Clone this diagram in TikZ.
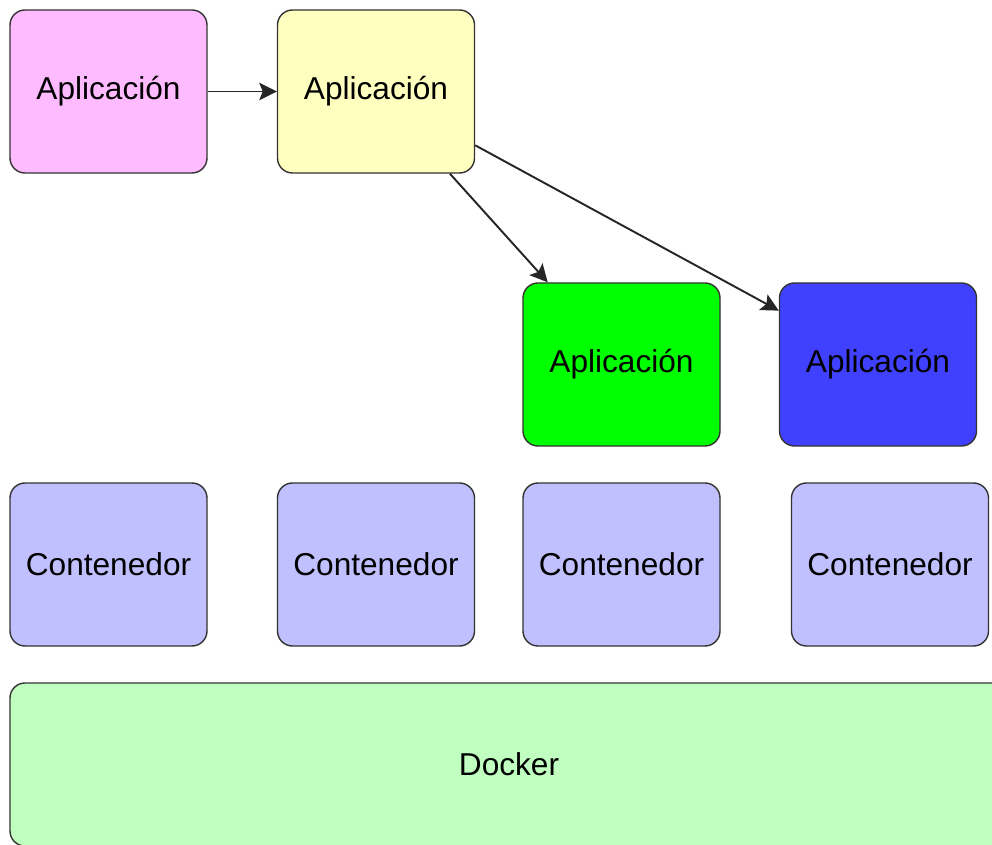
\documentclass[tikz,border=0pt]{standalone}
\usepackage{fontspec}
\setmainfont{Liberation Sans}
\usetikzlibrary{arrows.meta}

\definecolor{apppink}{RGB}{255,187,255}
\definecolor{appyellow}{RGB}{255,255,192}
\definecolor{appgreen}{RGB}{0,255,0}
\definecolor{appblue}{RGB}{64,64,255}
\definecolor{contfill}{RGB}{192,192,255}
\definecolor{dockfill}{RGB}{192,255,192}

\begin{document}
\begin{tikzpicture}[
	box/.style={draw=black!80, line width=0.8pt, rectangle, rounded corners=0.3cm, minimum width=3.94cm, minimum height=3.26cm, font=\fontsize{18}{22}\selectfont},
	flow/.style={-{Stealth[length=10pt, width=10pt, inset=2pt]}, line width=1.1pt, black!85}
]
	\useasboundingbox (0,0) rectangle (19.84,16.88);
	\clip (0,0) rectangle (19.84,16.88);

	% Applications
	\node[box, fill=apppink] (app1) at (2.17,15.05) {Aplicación};
	\node[box, fill=appyellow] (app2) at (7.52,15.05) {Aplicación};
	\node[box, fill=appgreen] (app3) at (12.43,9.59) {Aplicación};
	\node[box, fill=appblue] (app4) at (17.56,9.59) {Aplicación};

	% Containers
	\node[box, fill=contfill] (cont1) at (2.17,5.59) {Contenedor};
	\node[box, fill=contfill] (cont2) at (7.52,5.59) {Contenedor};
	\node[box, fill=contfill] (cont3) at (12.43,5.59) {Contenedor};
	\node[box, fill=contfill] (cont4) at (17.80,5.59) {Contenedor};

	% Docker
	\node[box, fill=dockfill, minimum width=19.96cm] (docker) at (10.18,1.59) {Docker};

	% Calls
	\draw[flow] (app1) -- (app2);
	\draw[flow] (app2) -- (app3);
	\draw[flow] (app2) -- (app4);
\end{tikzpicture}
\end{document}
